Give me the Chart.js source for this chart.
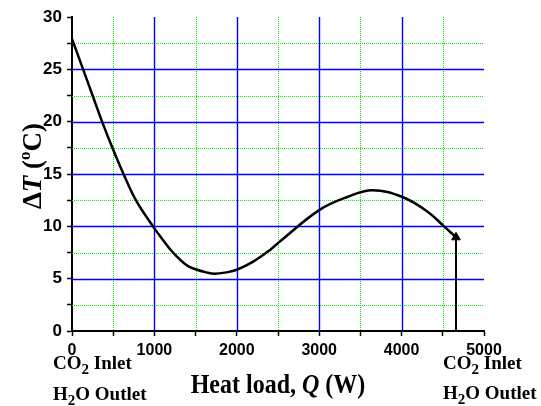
<!DOCTYPE html>
<html>
<head>
<meta charset="utf-8">
<script src="https://cdn.jsdelivr.net/npm/chart.js@4"></script>
<style>
html,body{margin:0;padding:0;background:#fff;}
#wrap{width:541px;height:406px;position:relative;}
</style>
</head>
<body>
<div id="wrap"><canvas id="c" width="541" height="406"></canvas></div>
<script>
// Data
const heatLoad = [0, 135, 250, 365, 490, 625, 775, 983, 1104, 1226, 1388, 1500, 1630, 1730, 1872, 2000, 2194, 2396, 2530, 3000, 3340, 3645, 4010, 4315, 4515, 4660];
const deltaT   = [27.9, 25, 22.5, 20, 17.5, 15, 12.5, 10, 8.7, 7.5, 6.3, 5.9, 5.6, 5.47, 5.6, 5.85, 6.6, 7.7, 8.6, 11.55, 12.8, 13.45, 12.8, 11.4, 10.0, 8.95];
const arrowQ = [4660, 4660];
const arrowT = [0, 8.95];
const xTickValues = [0, 1000, 2000, 3000, 4000, 5000];
const yTickValues = [0, 5, 10, 15, 20, 25, 30];
const xGridValues = [500, 1000, 1500, 2000, 2500, 3000, 3500, 4000, 4500];
const yGridValues = [2.5, 5, 7.5, 10, 12.5, 15, 17.5, 20, 22.5, 25, 27.5];

const curvePts = heatLoad.map((q, i) => ({x: q, y: deltaT[i]}));
const arrowPts = arrowQ.map((q, i) => ({x: q, y: arrowT[i]}));

const BLUE = '#0000ff';
const GREEN = '#00ee00';

function drawRuns(ctx, runs, x, y, align) {
  let w = 0;
  runs.forEach(r => { ctx.font = r.font; r.w = ctx.measureText(r.t).width; w += r.w; });
  let cx = align === 'center' ? x - w / 2 : x;
  ctx.textAlign = 'left';
  ctx.textBaseline = 'alphabetic';
  runs.forEach(r => { ctx.font = r.font; ctx.fillText(r.t, cx, y + (r.dy || 0)); cx += r.w; });
}

function isMajor(v, step) { return Math.abs(v / step - Math.round(v / step)) < 1e-6; }

const gridPlugin = {
  id: 'customGrid',
  beforeDatasetsDraw(chart) {
    const {ctx, chartArea: a, scales: {x, y}} = chart;
    ctx.save();
    [false, true].forEach(major => {
      ctx.strokeStyle = major ? BLUE : GREEN;
      ctx.lineWidth = major ? 1.4 : 1;
      ctx.setLineDash(major ? [] : [1, 1]);
      xGridValues.forEach(v => {
        if (isMajor(v, 1000) !== major) return;
        const px = Math.round(x.getPixelForValue(v)) + 0.5;
        ctx.beginPath(); ctx.moveTo(px, a.top); ctx.lineTo(px, a.bottom); ctx.stroke();
      });
      yGridValues.forEach(v => {
        if (isMajor(v, 5) !== major) return;
        const py = Math.round(y.getPixelForValue(v)) + 0.5;
        ctx.beginPath(); ctx.moveTo(a.left, py); ctx.lineTo(a.right, py); ctx.stroke();
      });
    });
    ctx.restore();
  }
};

const textPlugin = {
  id: 'texts',
  afterDraw(chart) {
    const ctx = chart.ctx;
    ctx.save();
    ctx.fillStyle = '#000';
    const F = 'bold 19px "Liberation Serif", "Times New Roman", serif';
    const FS = 'bold 15px "Liberation Serif", "Times New Roman", serif';
    const co2 = [{t: 'CO', font: F}, {t: '2', font: FS, dy: 5}, {t: ' Inlet', font: F}];
    const h2o = [{t: 'H', font: F}, {t: '2', font: FS, dy: 5}, {t: 'O Outlet', font: F}];
    drawRuns(ctx, co2, 53, 369, 'left');
    drawRuns(ctx, h2o, 53, 400, 'left');
    drawRuns(ctx, co2, 443, 369, 'left');
    drawRuns(ctx, h2o, 443, 399, 'left');

    // X axis title
    ctx.save();
    ctx.translate(0, 393);
    ctx.scale(1, 1.15);
    const XT = 'bold 24px "Liberation Serif", "Times New Roman", serif';
    const XI = 'italic bold 24px "Liberation Serif", "Times New Roman", serif';
    drawRuns(ctx, [{t: 'Heat load, ', font: XT}, {t: 'Q', font: XI}, {t: ' (W)', font: XT}], 278, 0, 'center');
    ctx.restore();

    // Y axis title
    ctx.save();
    ctx.translate(41, 166);
    ctx.rotate(-Math.PI / 2);
    const YT = 'bold 27px "Liberation Serif", "Times New Roman", serif';
    const YI = 'italic bold 27px "Liberation Serif", "Times New Roman", serif';
    const YS = 'bold 17px "Liberation Serif", "Times New Roman", serif';
    drawRuns(ctx, [{t: '\u0394', font: YT}, {t: 'T', font: YI}, {t: ' (', font: YT}, {t: 'o', font: YS, dy: -11}, {t: 'C)', font: YT}], 0, 0, 'center');
    ctx.restore();
    ctx.restore();
  }
};

new Chart(document.getElementById('c'), {
  type: 'line',
  data: {
    datasets: [
      {
        data: curvePts,
        borderColor: '#000',
        borderWidth: 2.5,
        pointRadius: 0,
        tension: 0.4,
        fill: false
      },
      {
        data: arrowPts,
        borderColor: '#000',
        backgroundColor: '#000',
        borderWidth: 2,
        pointStyle: 'triangle',
        pointRadius: (c) => c.dataIndex === 1 ? 5 : 0,
        pointBorderWidth: 1,
        tension: 0,
        fill: false
      }
    ]
  },
  options: {
    responsive: false,
    animation: false,
    events: [],
    layout: {padding: {top: 17, right: 57, left: 0, bottom: 0}},
    plugins: {legend: {display: false}, tooltip: {enabled: false}},
    scales: {
      x: {
        type: 'linear',
        min: 0, max: 5000,
        afterFit(s) { s.height = 75; s.paddingLeft = 0; s.paddingRight = 0; },
        ticks: {
          stepSize: 500,
          autoSkip: false,
          maxRotation: 0,
          padding: 5,
          color: '#000',
          font: {family: '"Liberation Sans", Arial, sans-serif', size: 16, weight: 'bold'},
          callback: (v) => xTickValues.includes(v) ? String(v) : ''
        },
        grid: {
          drawOnChartArea: false,
          color: '#000',
          tickColor: '#000',
          tickLength: 5,
          tickWidth: 1.5
        },
        border: {color: '#000', width: 2}
      },
      y: {
        type: 'linear',
        min: 0, max: 30,
        afterFit(s) { s.width = 72; s.paddingTop = 0; s.paddingBottom = 0; },
        ticks: {
          stepSize: 2.5,
          autoSkip: false,
          padding: 5,
          color: '#000',
          font: {family: '"Liberation Sans", Arial, sans-serif', size: 17, weight: 'bold'},
          callback: (v) => yTickValues.includes(v) ? String(v) : ''
        },
        grid: {
          drawOnChartArea: false,
          color: '#000',
          tickColor: '#000',
          tickLength: 5,
          tickWidth: 1.5
        },
        border: {color: '#000', width: 2}
      }
    }
  },
  plugins: [gridPlugin, textPlugin]
});
</script>
</body>
</html>
